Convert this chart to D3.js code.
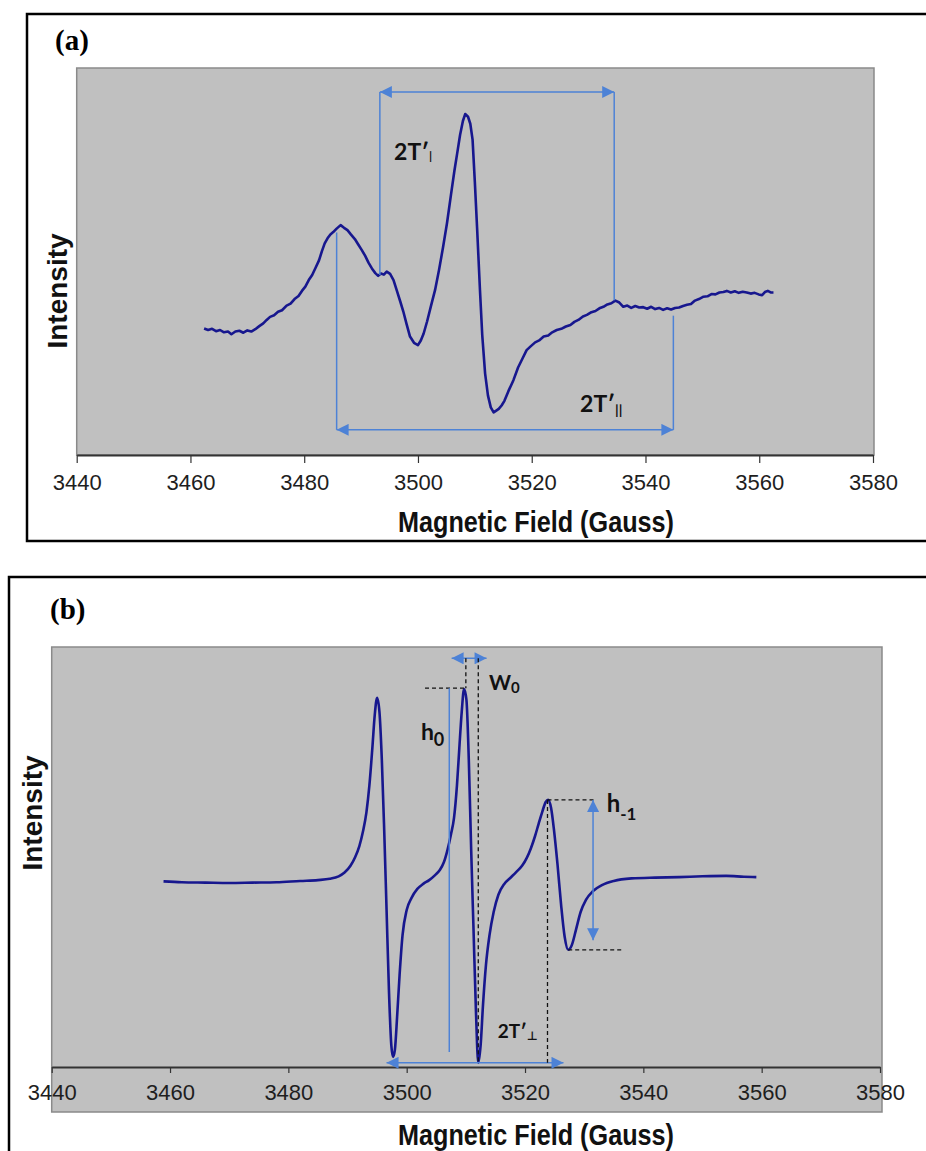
<!DOCTYPE html>
<html>
<head>
<meta charset="utf-8">
<script src="https://cdn.jsdelivr.net/npm/d3@7"></script>
<style>
body { margin: 0; background: #fff; }
svg { display: block; }
</style>
</head>
<body>
<svg id="chart" width="926" height="1151"></svg>
<script>
var fieldTicks = [3440, 3460, 3480, 3500, 3520, 3540, 3560, 3580];

// panel (a): measured spectrum, magnetic field (G) and intensity (arb. units)
var fieldA = [3462.4, 3463.1, 3463.8, 3464.5, 3465.2, 3465.9, 3466.6, 3467.2, 3467.9, 3468.6,
  3469.3, 3470.0, 3470.7, 3471.4, 3472.1, 3472.8, 3473.4, 3474.0, 3474.7, 3475.4,
  3476.1, 3476.9, 3477.6, 3478.3, 3479.0, 3479.6, 3480.2, 3480.8, 3481.4, 3482.0,
  3482.6, 3483.1, 3483.6, 3484.1, 3484.6, 3485.1, 3485.7, 3486.4, 3487.0, 3487.6,
  3488.2, 3488.9, 3489.5, 3490.1, 3490.7, 3491.3, 3491.9, 3492.5, 3493.0, 3493.5,
  3494.0, 3494.5, 3495.1, 3495.7, 3496.3, 3496.9, 3497.4, 3498.0, 3498.6, 3499.3,
  3500.0, 3500.5, 3501.0, 3501.6, 3502.3, 3503.0, 3503.7, 3504.4, 3505.1, 3505.8,
  3506.4, 3506.9, 3507.4, 3507.9, 3508.3, 3508.8, 3509.2, 3509.6, 3510.0, 3510.4,
  3510.9, 3511.3, 3511.8, 3512.3, 3512.8, 3513.3, 3513.7, 3514.2, 3514.7, 3515.2,
  3515.9, 3516.8, 3517.6, 3518.4, 3519.1, 3519.9, 3520.6, 3521.3, 3522.1, 3522.9,
  3523.6, 3524.4, 3525.2, 3526.0, 3526.8, 3527.5, 3528.2, 3529.0, 3529.7, 3530.5,
  3531.2, 3531.9, 3532.6, 3533.3, 3534.0, 3534.7, 3535.4, 3536.1, 3536.8, 3537.5,
  3538.2, 3538.9, 3539.6, 3540.3, 3541.0, 3541.7, 3542.4, 3543.1, 3543.8, 3544.5,
  3545.2, 3545.9, 3546.6, 3547.3, 3548.0, 3548.7, 3549.4, 3550.2, 3550.9, 3551.6,
  3552.3, 3553.0, 3553.7, 3554.3, 3555.0, 3555.7, 3556.4, 3557.1, 3557.8, 3558.5,
  3559.2, 3559.9, 3560.5, 3561.0, 3561.5, 3562.0, 3562.5];
var intensityA = [32.7, 32.3, 32.6, 32.0, 32.3, 31.7, 31.9, 31.2, 31.9, 32.1,
  31.6, 32.2, 31.9, 32.5, 33.3, 34.0, 34.9, 35.7, 36.1, 37.0,
  37.4, 38.6, 39.1, 40.3, 41.1, 42.4, 43.5, 45.2, 46.5, 48.4,
  50.3, 52.6, 54.7, 56.0, 57.0, 57.6, 58.5, 59.4, 58.7, 58.1,
  57.0, 55.8, 54.4, 53.0, 51.5, 49.7, 48.2, 47.0, 46.3, 46.9,
  46.6, 47.4, 46.8, 45.2, 42.4, 39.6, 37.2, 33.8, 30.6, 29.0,
  28.4, 29.6, 31.4, 34.5, 38.6, 42.6, 47.8, 53.6, 59.9, 67.2,
  73.4, 78.0, 82.7, 86.3, 88.1, 87.4, 85.6, 81.5, 70.5, 58.5,
  42.6, 31.0, 21.1, 15.4, 12.3, 11.0, 11.4, 11.9, 12.8, 14.0,
  16.5, 19.4, 22.6, 25.0, 27.1, 28.2, 29.1, 29.6, 30.6, 30.9,
  31.7, 32.3, 32.6, 33.2, 33.6, 34.4, 34.9, 35.8, 36.2, 36.9,
  37.2, 37.9, 38.3, 38.9, 39.2, 39.9, 39.4, 38.3, 38.6, 38.0,
  38.5, 38.1, 38.2, 37.8, 38.3, 37.7, 38.0, 37.5, 37.9, 37.6,
  38.0, 38.1, 38.5, 38.8, 39.0, 39.9, 40.3, 40.9, 41.0, 41.6,
  41.5, 42.0, 42.1, 42.4, 42.0, 42.3, 41.9, 42.2, 42.0, 41.7,
  41.9, 41.5, 41.3, 42.1, 42.4, 42.0, 42.0];

// panel (b): simulated spectrum
var fieldB = [3458.9, 3462.0, 3466.0, 3470.0, 3474.0, 3478.0, 3482.0, 3485.0, 3487.0, 3488.5,
  3489.5, 3490.5, 3491.3, 3492.0, 3492.6, 3493.2, 3493.7, 3494.2, 3494.6, 3495.0,
  3495.4, 3495.8, 3496.2, 3496.6, 3497.0, 3497.4, 3497.7, 3498.0, 3498.4, 3498.8,
  3499.3, 3500.0, 3500.8, 3501.8, 3502.8, 3503.8, 3504.8, 3505.6, 3506.3, 3506.9,
  3507.5, 3508.0, 3508.5, 3508.9, 3509.3, 3509.7, 3510.1, 3510.5, 3510.9, 3511.3,
  3511.7, 3512.1, 3512.5, 3512.9, 3513.4, 3514.0, 3514.7, 3515.5, 3516.5, 3517.5,
  3518.5, 3519.5, 3520.3, 3521.0, 3521.7, 3522.3, 3522.9, 3523.5, 3523.9, 3524.4,
  3524.9, 3525.5, 3526.1, 3526.7, 3527.3, 3527.9, 3528.6, 3529.4, 3530.3, 3531.5,
  3533.0, 3535.0, 3538.0, 3542.0, 3546.0, 3550.0, 3554.0, 3557.0, 3559.1];
var intensityB = [44.2, 44.0, 43.9, 43.8, 43.9, 44.0, 44.3, 44.5, 44.8, 45.4,
  46.3, 47.9, 50.0, 52.6, 56.0, 60.7, 67.1, 76.0, 83.8, 87.9,
  84.5, 73.1, 56.4, 37.4, 18.3, 5.2, 2.4, 4.0, 12.4, 21.9,
  31.4, 37.4, 40.2, 42.4, 43.6, 44.5, 45.7, 46.9, 48.8, 51.7,
  55.5, 59.3, 67.1, 76.0, 84.5, 90.0, 87.4, 73.1, 51.7, 32.6,
  13.6, 1.0, 5.2, 14.8, 24.3, 31.4, 36.9, 41.0, 43.6, 45.0,
  46.4, 47.9, 49.8, 52.1, 55.0, 57.9, 60.7, 63.1, 63.6, 61.7,
  56.4, 48.1, 38.6, 31.0, 27.9, 29.0, 32.6, 36.9, 39.8, 41.9,
  43.3, 44.3, 44.9, 45.1, 45.2, 45.4, 45.5, 45.3, 45.2];

var blue = "#4d82d6", navy = "#17178e";
var sans = "'Liberation Sans', Arial, sans-serif";
var labelFont = "Lato, 'Open Sans', 'DejaVu Sans', sans-serif";

var svg = d3.select("#chart");

svg.append("defs").append("marker")
    .attr("id", "head")
    .attr("viewBox", "0 0 12 12")
    .attr("refX", 12).attr("refY", 6)
    .attr("markerWidth", 13).attr("markerHeight", 12)
    .attr("markerUnits", "userSpaceOnUse")
    .attr("orient", "auto-start-reverse")
  .append("path")
    .attr("d", "M0,0L12,6L0,12Z")
    .attr("fill", blue);

function makePanel(p) {
    var g = svg.append("g");
    g.append("rect")
        .attr("x", p.box[0]).attr("y", p.box[1])
        .attr("width", p.box[2]).attr("height", p.box[3])
        .attr("fill", "none").attr("stroke", "#000").attr("stroke-width", 2.5);

    var x = d3.scaleLinear().domain([3440, 3580]).range([p.left, p.right]);
    var y = d3.scaleLinear().domain([0, 100]).range([p.axisY, p.top]);

    g.append("rect")
        .attr("x", p.left).attr("y", p.top)
        .attr("width", p.grayRight - p.left).attr("height", p.grayBottom - p.top)
        .attr("fill", "#c0c0c0").attr("stroke", "#8a8a8a").attr("stroke-width", 1.5);

    var axis = g.append("g")
        .attr("transform", "translate(0," + p.axisY + ")")
        .call(d3.axisBottom(x).tickValues(fieldTicks).tickSize(p.tick).tickSizeOuter(0)
            .tickPadding(11).tickFormat(d3.format("d")));
    axis.select(".domain").attr("stroke", "#333").attr("stroke-width", 2);
    axis.selectAll(".tick line").attr("stroke", "#333").attr("stroke-width", 1.2);
    axis.selectAll(".tick text")
        .attr("font-family", sans).attr("font-size", 22).attr("fill", "#1e1e1e");

    // axis titles
    g.append("text")
        .attr("x", 536).attr("y", p.titleY)
        .attr("text-anchor", "middle")
        .attr("font-family", sans).attr("font-weight", "bold").attr("font-size", 29)
        .attr("textLength", 276).attr("lengthAdjust", "spacingAndGlyphs")
        .attr("fill", "#111")
        .text("Magnetic Field (Gauss)");

    g.append("text")
        .attr("transform", "translate(" + p.yTitle[0] + "," + p.yTitle[1] + ") rotate(-90)")
        .attr("text-anchor", "middle")
        .attr("font-family", sans).attr("font-weight", "bold").attr("font-size", 28)
        .attr("fill", "#111")
        .text("Intensity");

    g.append("text")
        .attr("x", p.tag[0]).attr("y", p.tag[1])
        .attr("font-family", "'Liberation Serif', 'Times New Roman', serif")
        .attr("font-weight", "bold").attr("font-size", 29)
        .text(p.name);

    g.x = x; g.y = y;
    return g;
}

function drawCurve(g, xs, ys, curve) {
    var line = d3.line()
        .x(function (d) { return g.x(d[0]); })
        .y(function (d) { return g.y(d[1]); })
        .curve(curve);
    g.append("path")
        .datum(d3.zip(xs, ys))
        .attr("d", line)
        .attr("fill", "none").attr("stroke", navy)
        .attr("stroke-width", 2.6).attr("stroke-linejoin", "round");
}

function seg(g, x1, v1, x2, v2, kind) {
    var l = g.append("line")
        .attr("x1", g.x(x1)).attr("y1", g.y(v1))
        .attr("x2", g.x(x2)).attr("y2", g.y(v2));
    if (kind === "dash") {
        l.attr("stroke", "#111").attr("stroke-width", 1.3).attr("stroke-dasharray", "4,3");
    } else {
        l.attr("stroke", blue).attr("stroke-width", 1.5);
        if (kind === "arrow2") l.attr("marker-start", "url(#head)").attr("marker-end", "url(#head)");
    }
}

function label(g, gx, v, main, sub, size, subSize, shift) {
    var t = g.append("text")
        .attr("x", g.x(gx)).attr("y", g.y(v))
        .attr("font-family", labelFont).attr("font-weight", "bold")
        .attr("font-size", size).attr("fill", "#111");
    t.append("tspan").text(main);
    t.append("tspan").attr("dy", shift).attr("font-size", subSize).text(sub);
}

// ---- panel (a)
var a = makePanel({
    name: "(a)", box: [27, 14, 920, 527], tag: [55, 50],
    left: 76.7, right: 873, grayRight: 874, top: 68, axisY: 455, grayBottom: 455,
    tick: 8, titleY: 532, yTitle: [67, 291]
});
drawCurve(a, fieldA, intensityA, d3.curveLinear);
seg(a, 3493.3, 93.8, 3534.5, 93.8, "arrow2");
seg(a, 3493.3, 93.8, 3493.3, 46.5);
seg(a, 3534.5, 93.8, 3534.5, 40.0);
seg(a, 3485.7, 6.5, 3544.9, 6.5, "arrow2");
seg(a, 3485.7, 57.5, 3485.7, 6.5);
seg(a, 3544.9, 36.0, 3544.9, 6.5);
label(a, 3495.8, 76.2, "2T\u2032", "|", 23, 12, 0);
label(a, 3528.5, 11.1, "2T\u2032", "||", 23, 14, 3);

// ---- panel (b)
var b = makePanel({
    name: "(b)", box: [9, 577, 940, 600], tag: [50, 619],
    left: 51.7, right: 880, grayRight: 882, top: 647, axisY: 1067, grayBottom: 1112,
    tick: 6, titleY: 1145, yTitle: [42, 813]
});
drawCurve(b, fieldB, intensityB, d3.curveMonotoneX);
seg(b, 3507.6, 97.3, 3513.5, 97.3, "arrow2");
seg(b, 3510.0, 97.3, 3510.0, 90.2, "dash");
seg(b, 3512.1, 97.3, 3512.1, 1.0, "dash");
seg(b, 3503.1, 90.2, 3510.0, 90.2, "dash");
seg(b, 3507.2, 90.2, 3507.2, 3.6);
seg(b, 3496.6, 1.0, 3526.5, 1.0, "arrow2");
seg(b, 3523.8, 63.6, 3523.8, 1.0, "dash");
seg(b, 3523.8, 63.6, 3531.8, 63.6, "dash");
seg(b, 3531.5, 63.6, 3531.5, 30.2, "arrow2");
seg(b, 3527.3, 27.9, 3536.3, 27.9, "dash");
label(b, 3513.9, 89.8, "W", "0", 21, 15, 3);
label(b, 3502.4, 77.9, "h", "0", 23, 18, 6);
label(b, 3533.8, 60.8, "h", "-1", 24, 17, 8);
label(b, 3515.4, 6.9, "2T\u2032", "\u22a5", 19, 12, 2);
</script>
</body>
</html>
